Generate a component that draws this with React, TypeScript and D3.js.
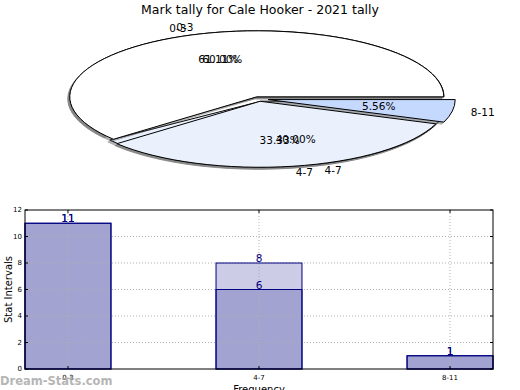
import React from 'react'
import * as d3 from 'd3'

// pie 1: this year's tally, pie 2: the comparison slices drawn underneath
const categories = ['0-3', '4-7', '8-11']
const tally = [11, 6, 1]
const compareCats = ['0-3', '4-7']
const compare = [60, 40]
// bar chart: light bars behind, dark bars in front
const lightBars = [11, 8, 1]
const darkBars = [11, 6, 1]
const yTicks = [0, 2, 4, 6, 8, 10, 12]

const W = 520
const H = 390
const FONT = 'DejaVu Sans, sans-serif'
const sliceColors = ['#ffffff', '#eaf1fd', '#c5d8fd']

const cx = 259
const cy = 99
const rx = 187
const ry = 66

type Wedge = { label: string; value: number; a0: number; a1: number; color: string; explode: number }

const makeWedges = (labels: string[], values: number[], explode: number[]): Wedge[] => {
  const total = d3.sum(values)
  let acc = 0
  return values.map((v, i) => {
    const a0 = (acc / total) * Math.PI * 2
    acc += v
    const a1 = (acc / total) * Math.PI * 2
    return { label: labels[i], value: v / total, a0, a1, color: sliceColors[i], explode: explode[i] }
  })
}

const offsetOf = (w: Wedge) => {
  const mid = (w.a0 + w.a1) / 2
  return [Math.cos(mid) * w.explode * rx, -Math.sin(mid) * w.explode * ry]
}

const wedgePath = (w: Wedge) => {
  const [dx, dy] = offsetOf(w)
  const x0 = cx + dx
  const y0 = cy + dy
  const p = (a: number) => [x0 + Math.cos(a) * rx, y0 - Math.sin(a) * ry]
  const [sx, sy] = p(w.a0)
  const [ex, ey] = p(w.a1)
  const large = w.a1 - w.a0 > Math.PI ? 1 : 0
  return `M${x0},${y0}L${sx},${sy}A${rx},${ry} 0 ${large} 0 ${ex},${ey}Z`
}

const fmtPct = d3.format('.2%')

const Pie = ({ wedges }: { wedges: Wedge[] }) => (
  <g>
    {wedges.map((w, i) => (
      <path key={'s' + i} d={wedgePath(w)} transform="translate(-2,2)" fill="#555" opacity={0.45} stroke="#555" />
    ))}
    {wedges.map((w, i) => (
      <path key={'w' + i} d={wedgePath(w)} fill={w.color} stroke="#000" strokeWidth={1} />
    ))}
  </g>
)

const PieText = ({ wedges }: { wedges: Wedge[] }) => (
  <g fontFamily={FONT} fontSize={10.5} fill="#000">
    {wedges.map((w, i) => {
      const mid = (w.a0 + w.a1) / 2
      const [dx, dy] = offsetOf(w)
      const lx = cx + dx + Math.cos(mid) * rx * 1.1
      const ly = cy + dy - Math.sin(mid) * ry * 1.1
      const px = cx + dx + Math.cos(mid) * rx * 0.6
      const py = cy + dy - Math.sin(mid) * ry * 0.6
      return (
        <g key={i}>
          <text x={lx} y={ly} dy="0.35em" textAnchor={lx > cx ? 'start' : 'end'}>{w.label}</text>
          <text x={px} y={py} dy="0.35em" textAnchor="middle">{fmtPct(w.value)}</text>
        </g>
      )
    })}
  </g>
)

export default function App() {
  const pie1 = makeWedges(categories, tally, [0.035, 0.035, 0.05])
  const pie2 = makeWedges(compareCats, compare, [0.035, 0.035])

  const left = 25
  const right = 493
  const top = 210
  const bottom = 369
  const barW = 0.45
  const x = d3.scaleLinear().domain([0, categories.length - 1 + barW]).range([left, right])
  const y = d3.scaleLinear().domain([0, 12]).range([bottom, top])
  const centers = categories.map((_, i) => x(i + barW / 2))

  const bars = (vals: number[], fill: string, key: string, withFill: boolean) =>
    vals.map((v, i) => (
      <rect key={key + i} x={x(i)} y={y(v)} width={x(i + barW) - x(i)} height={y(0) - y(v)}
        fill={withFill ? fill : 'none'} stroke={withFill ? 'none' : '#000080'} strokeWidth={1} />
    ))

  return (
    <svg width={W} height={H} style={{ position: 'absolute', left: 0, top: 0 }}>
      <rect width={W} height={H} fill="#fff" />
      <text x={260} y={14} textAnchor="middle" fontFamily={FONT} fontSize={12.5}>
        Mark tally for Cale Hooker - 2021 tally
      </text>

      <Pie wedges={pie2} />
      <Pie wedges={pie1} />
      <PieText wedges={pie2} />
      <PieText wedges={pie1} />

      {/* bar fills */}
      {bars(lightBars, '#ccccE6', 'lf', true)}
      {bars(darkBars, '#a3a3d1', 'df', true)}

      {/* grid */}
      <g stroke="#b0b0b0" strokeDasharray="1,2" strokeWidth={1}>
        {yTicks.slice(1, -1).map((t) => (
          <line key={t} x1={left} x2={right} y1={y(t)} y2={y(t)} />
        ))}
        {centers.map((c, i) => (
          <line key={i} x1={c} x2={c} y1={top} y2={bottom} />
        ))}
      </g>

      {/* bar outlines */}
      {bars(lightBars, '', 'lo', false)}
      {bars(darkBars, '', 'do', false)}

      {/* value labels */}
      <g fontFamily={FONT} fontSize={10.5} fill="#000080" textAnchor="middle">
        {lightBars.map((v, i) => (
          <text key={'lt' + i} x={centers[i]} y={y(v) - 1}>{v}</text>
        ))}
        {darkBars.map((v, i) => (
          <text key={'dt' + i} x={centers[i]} y={y(v) - 1}>{v}</text>
        ))}
      </g>

      {/* frame and ticks */}
      <rect x={left} y={top} width={right - left} height={bottom - top} fill="none" stroke="#000" strokeWidth={1} />
      <g stroke="#000">
        {yTicks.map((t) => (
          <g key={t}>
            <line x1={left} x2={left + 3} y1={y(t)} y2={y(t)} />
            <line x1={right - 3} x2={right} y1={y(t)} y2={y(t)} />
          </g>
        ))}
        {centers.map((c, i) => (
          <g key={i}>
            <line x1={c} x2={c} y1={bottom} y2={bottom - 3} />
            <line x1={c} x2={c} y1={top} y2={top + 3} />
          </g>
        ))}
      </g>
      <g fontFamily={FONT} fontSize={7} fill="#000">
        {yTicks.map((t) => (
          <text key={t} x={left - 3} y={y(t)} dy="0.35em" textAnchor="end">{t}</text>
        ))}
        {categories.map((c, i) => (
          <text key={c} x={centers[i]} y={bottom + 11} textAnchor="middle">{c}</text>
        ))}
      </g>
      <text transform={`translate(8,${(top + bottom) / 2}) rotate(-90)`} textAnchor="middle"
        fontFamily={FONT} fontSize={10} dy="0.35em">Stat Intervals</text>
      <text x={centers[1]} y={393} textAnchor="middle" fontFamily={FONT} fontSize={10}>Frequency</text>

      <text x={0} y={385} fontFamily={FONT} fontSize={11.5} fontWeight="bold" fill="#aaaaaa" opacity={0.85}>
        Dream-Stats.com
      </text>
    </svg>
  )
}
